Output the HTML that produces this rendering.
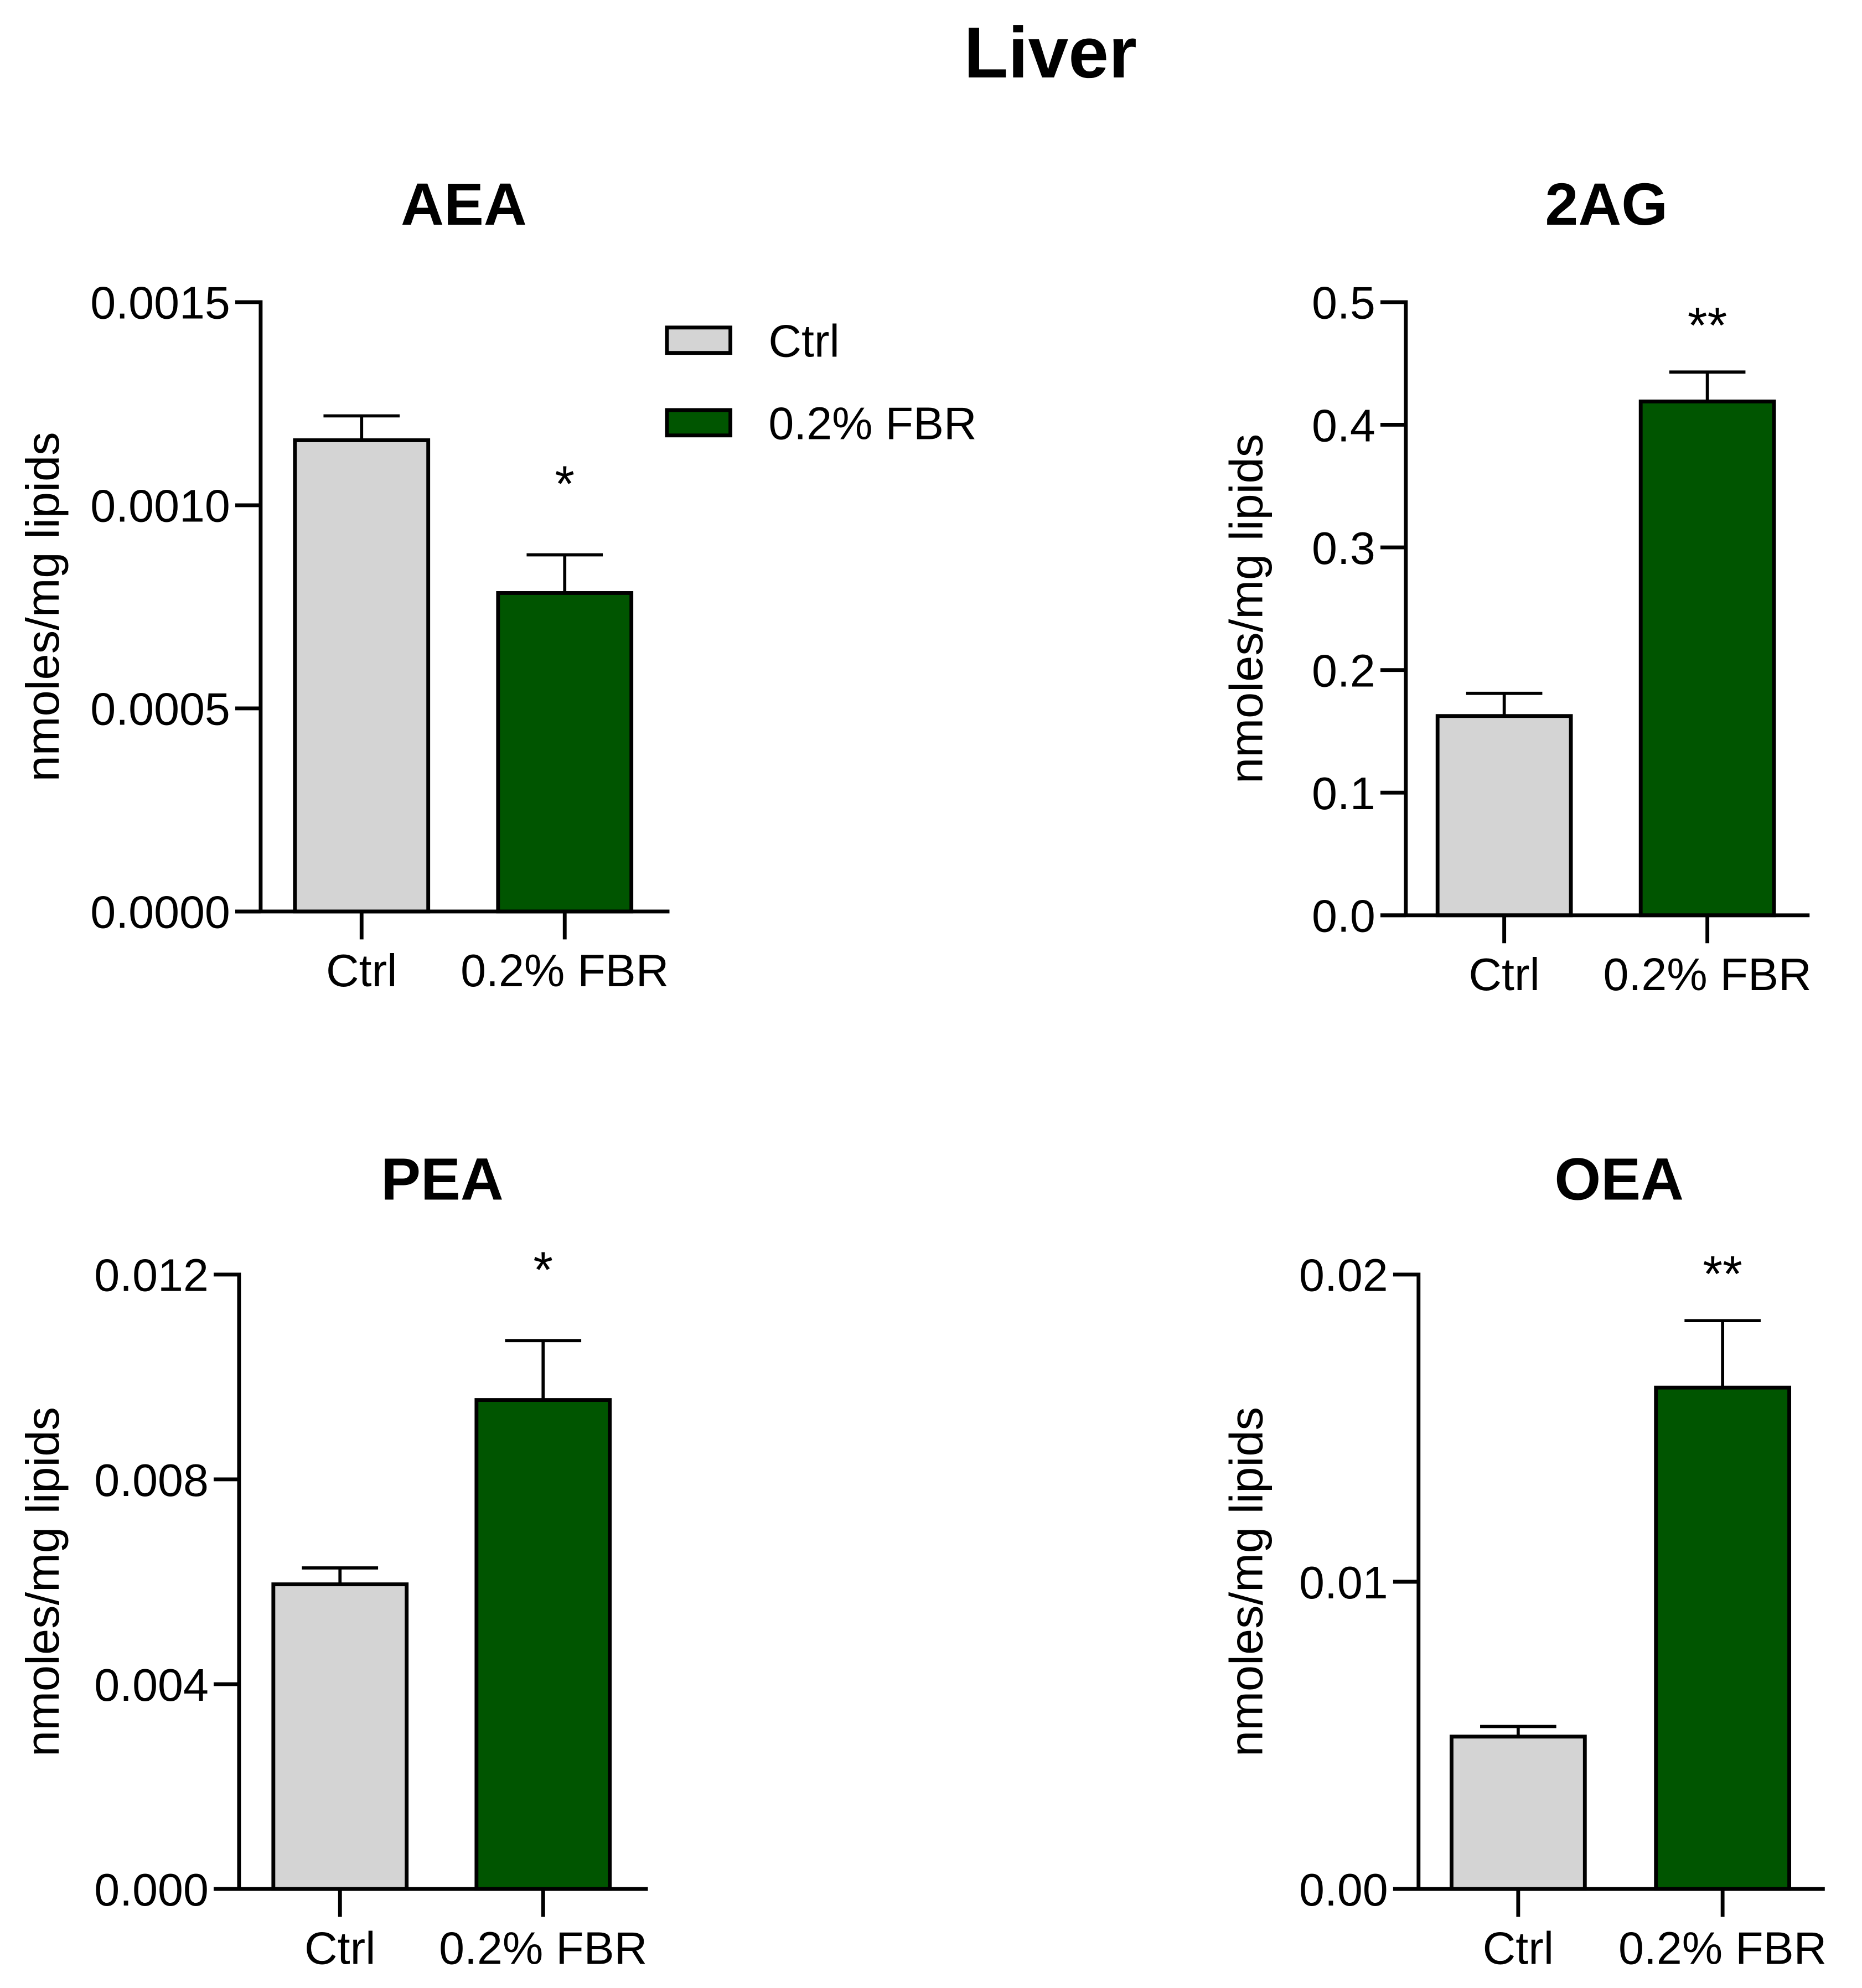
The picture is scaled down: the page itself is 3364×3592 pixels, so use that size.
<!DOCTYPE html>
<html><head><meta charset="utf-8">
<style>
html,body{margin:0;padding:0;background:#fff;}
svg{display:block;}
text{font-family:"Liberation Sans",Arial,sans-serif;fill:#000;}
</style></head>
<body>
<svg id="fig" width="3364" height="3592" viewBox="0 0 1466 1566" xmlns="http://www.w3.org/2000/svg">
<text x="827" y="61" font-size="57" font-weight="bold" text-anchor="middle">Liver</text>
<g>
<rect x="525" y="258" width="50" height="20" fill="#d4d4d4" stroke="#000" stroke-width="3"/>
<text x="605" y="281" font-size="36">Ctrl</text>
<rect x="525" y="323" width="50" height="20" fill="#005500" stroke="#000" stroke-width="3"/>
<text x="605" y="346" font-size="36">0.2% FBR</text>
</g>
</svg>
<script>
const categories = ["Ctrl", "0.2% FBR"];
const aeaMeans = [0.00116, 0.000784];
const aeaErr = [0.00122, 0.000878];
const aeaTicks = ["0.0000","0.0005","0.0010","0.0015"];
const agMeans = [0.1625, 0.419];
const agErr = [0.181, 0.443];
const agTicks = ["0.0","0.1","0.2","0.3","0.4","0.5"];
const peaMeans = [0.00595, 0.00955];
const peaErr = [0.00627, 0.01071];
const peaTicks = ["0.000","0.004","0.008","0.012"];
const oeaMeans = [0.00496, 0.01632];
const oeaErr = [0.00529, 0.0185];
const oeaTicks = ["0.00","0.01","0.02"];
const sigMarks = [["","*"],["","**"],["","*"],["","**"]];

const panels = [
 {name:"aea",title:"AEA",means:aeaMeans,err:aeaErr,ticks:aeaTicks,ax:205,top:238,bot:718,right:527,bars:[232,392],tx:365,ty:177,lx:40,sig:sigMarks[0]},
 {name:"2ag",title:"2AG",means:agMeans,err:agErr,ticks:agTicks,ax:1107,top:238,bot:721,right:1425,bars:[1132,1292],tx:1265,ty:177,lx:988,sig:sigMarks[1]},
 {name:"pea",title:"PEA",means:peaMeans,err:peaErr,ticks:peaTicks,ax:188,top:1004,bot:1488,right:510,bars:[215,375],tx:348,ty:945,lx:40,sig:sigMarks[2]},
 {name:"oea",title:"OEA",means:oeaMeans,err:oeaErr,ticks:oeaTicks,ax:1117,top:1004,bot:1488,right:1437,bars:[1143,1304],tx:1275,ty:945,lx:988,sig:sigMarks[3]}
];
const NS="http://www.w3.org/2000/svg";
const svg=document.getElementById('fig');
function mk(tag,attrs,parent){const e=document.createElementNS(NS,tag);for(const k in attrs)e.setAttribute(k,attrs[k]);parent.appendChild(e);return e;}
const colors=["#d4d4d4","#005500"];
const bw=105;
panels.forEach(p=>{
 const g=mk('g',{},svg);
 
 
 const ymax=parseFloat(p.ticks[p.ticks.length-1]);
 const y=v=>p.bot-(v/ymax)*(p.bot-p.top);
 const t=mk('text',{x:p.tx,y:p.ty,'font-size':47,'font-weight':'bold','text-anchor':'middle'},g);
 t.textContent=p.title;
 
 
 const yl=mk('text',{x:0,y:0,'font-size':37,'text-anchor':'middle',transform:`translate(${p.lx+6},${(p.top+p.bot)/2}) rotate(-90)`},g);
 yl.textContent='nmoles/mg lipids';
 
 
 p.means.forEach((m,i)=>{
  const x0=p.bars[i], cx=x0+bw/2;
  const eb=mk('path',{d:`M${cx},${y(m)} L${cx},${y(p.err[i])} M${cx-30},${y(p.err[i])} L${cx+30},${y(p.err[i])}`,stroke:'#000','stroke-width':2.5,fill:'none'},g);
  
  
  const r=mk('rect',{x:x0,y:y(m),width:bw,height:p.bot-y(m),fill:colors[i],stroke:'#000','stroke-width':3},g);
  
  
  if(p.sig[i]){
   const s=mk('text',{x:cx,y:y(p.err[i])-(p.sig[i]==='**'?23:42),'font-size':40,'text-anchor':'middle'},g);
   s.textContent=p.sig[i];
   
   
  }
  const tk=mk('line',{x1:cx,y1:p.bot,x2:cx,y2:p.bot+22,stroke:'#000','stroke-width':3},g);
  
  
  const lb=mk('text',{x:cx,y:p.bot+59,'font-size':36,'text-anchor':'middle'},g);
  lb.textContent=categories[i];
  
  
 });
 p.ticks.forEach(tv=>{
  const yy=y(parseFloat(tv));
  const tk=mk('line',{x1:p.ax-20,y1:yy,x2:p.ax,y2:yy,stroke:'#000','stroke-width':3},g);
  
  
  const tl=mk('text',{x:p.ax-24,y:yy+13,'font-size':36,'text-anchor':'end'},g);
  tl.textContent=tv;
  
  
 });
 const ya=mk('line',{x1:p.ax,y1:p.top-1.5,x2:p.ax,y2:p.bot,stroke:'#000','stroke-width':3},g);
 
 
 const xa=mk('line',{x1:p.ax-20,y1:p.bot,x2:p.right,y2:p.bot,stroke:'#000','stroke-width':3},g);
 
 
});
</script>
</body></html>
